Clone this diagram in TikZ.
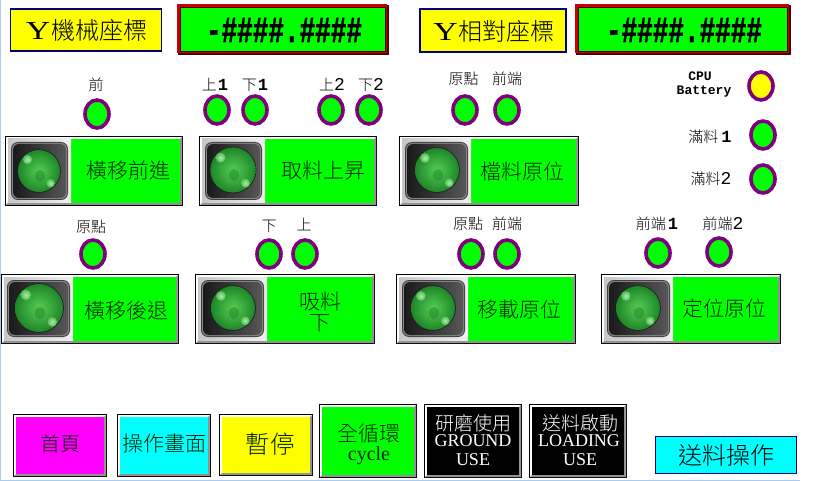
\documentclass[tikz,border=0pt]{standalone}
\usepackage{fontspec}
\setmainfont{Liberation Serif}
\newfontfamily\cjk{Noto Sans CJK TC Light}
\newfontfamily\monob{Liberation Mono}[BoldFont={Liberation Mono Bold}]
\newfontfamily\ledfont{Liberation Mono Bold}[FakeBold=1.5]
\usetikzlibrary{shapes.geometric}
\definecolor{navyb}{RGB}{0,0,128}
\definecolor{lampp}{RGB}{128,0,128}
\definecolor{pgreen}{RGB}{0,255,0}
\definecolor{pyellow}{RGB}{255,255,0}
\definecolor{pcyan}{RGB}{0,255,255}
\definecolor{pmag}{RGB}{255,0,255}
\definecolor{edgeb}{RGB}{168,204,240}
\definecolor{dred}{RGB}{200,0,0}
\definecolor{ballin}{RGB}{85,205,85}
\definecolor{ballout}{RGB}{30,135,40}
\definecolor{ballspot}{RGB}{215,250,215}
\tikzset{
  lampnode/.style={ellipse,draw=lampp,line width=3.6pt,minimum width=24pt,minimum height=28pt,inner sep=0pt},
  smalltxt/.style={font=\cjk\fontsize{15}{15}\selectfont,inner sep=0pt,text=black},
  btntxt/.style={font=\cjk\fontsize{21}{22}\selectfont,inner sep=0pt,text=black!85!green,align=center},
  titletxt/.style={font=\cjk\fontsize{24}{25}\selectfont,inner sep=0pt,text=black},
  ledtxt/.style={font=\ledfont\fontsize{26}{28}\selectfont,inner sep=0pt,text=black},
  cputxt/.style={font=\monob\bfseries\fontsize{13}{14}\selectfont,inner sep=0pt,text=black},
  blacktxt/.style={font=\cjk\fontsize{19}{20}\selectfont,inner sep=0pt,text=white},
  blacklat/.style={font=\fontsize{18}{20}\selectfont,inner sep=0pt,text=white},
}
\newcommand{\lampat}[4]{\node[lampnode,fill=#4] (#1) at (#2,#3) {};}
\newcommand{\ledbox}[5]{%
  \fill[black!70!red] (#2+1,#3+1) rectangle (#4,#5);
  \fill[dred] (#2,#3) rectangle (#4-2,#5-2);
  \node[rectangle,fill=pgreen,draw=black!70!red,line width=.6pt,minimum width=#4-#2-7pt,minimum height=#5-#3-7pt,inner sep=0pt] (#1) at ({(#2+#4)/2-.5},{(#3+#5)/2-.5}) {};}
\newcommand{\btnbox}[6]{%
  \fill[black] (#2,#3) rectangle (#4,#5);
  \fill[white] (#2+1,#3+1) rectangle (#4-1,#5-1);
  \fill[gray!85] (#4-1,#3+1) -- (#4-1,#5-1) -- (#2+1,#5-1) -- (#2+3,#5-3) -- (#4-3,#5-3) -- (#4-3,#3+3) -- cycle;
  \node[rectangle,fill=#6,minimum width=#4-#2-6pt,minimum height=#5-#3-6pt,inner sep=0pt] (#1) at ({(#2+#4)/2},{(#3+#5)/2}) {};}
% metal lamp picture: x0 y0 x1 y1 cx cy r
\newcommand{\lampimg}[7]{%
  \begin{scope}
  \clip (#1,#2) rectangle (#3,#4);
  \shade[shading angle=135,left color=black!22,middle color=black!72,right color=black!6] (#1,#2) rectangle (#3,#4);
  \fill[rounded corners=7pt,black!75] (#1+3,#2+3) rectangle (#3-3,#4-3);
  \fill[rounded corners=6pt,black!48] (#1+4,#2+4) rectangle (#3-4,#4-4);
  \shade[rounded corners=6pt,shading angle=135,left color=black!90,right color=black!66] (#1+5,#2+5) rectangle (#3-5,#4-5);
  \fill[black!88] (#5,#6) circle[radius=#7+.8];
  \shade[inner color=ballin,outer color=ballout] (#5,#6) circle[radius=#7];
  \fill[ballout,opacity=.5] (#5+1,#6+5) ellipse[x radius=5,y radius=6];
  \shade[inner color=ballspot,outer color=ballin,opacity=.8] (#5-#7*.55,#6-#7*.55) circle[radius=#7*.22];
  \shade[inner color=ballspot,outer color=ballin,opacity=.8] (#5+#7*.55,#6+#7*.58) circle[radius=#7*.2];
  \end{scope}}
\begin{document}
\begin{tikzpicture}[x=1pt,y=-1pt]
\useasboundingbox (0,0) rectangle (819,481);
\fill[white] (0,0) rectangle (819,481);
\fill[edgeb] (0,0) rectangle (1.2,481);
\fill[edgeb] (0,479.8) rectangle (800,481);
% headers
\node[rectangle,draw=navyb,fill=pyellow,line width=1.6pt,minimum width=151pt,minimum height=42pt,inner sep=0pt] (t1) at (86,30) {};
\node[titletxt] (t1txt) at (86.5,30) {\rmfamily\fontsize{26}{26}\selectfont\scalebox{1.3}[1]{Y}\hspace{1pt}\cjk\fontsize{24}{25}\selectfont 機械座標};
\ledbox{d1}{177}{4}{389}{55}
\node[ledtxt,yscale=1.4] (d1txt) at (284,30) {-\#\#\#\#.\#\#\#\#};
\node[rectangle,draw=navyb,fill=pyellow,line width=1.6pt,minimum width=146pt,minimum height=43pt,inner sep=0pt] (t2) at (493,30.5) {};
\node[titletxt] (t2txt) at (494,31) {\rmfamily\fontsize{26}{26}\selectfont\scalebox{1.3}[1]{Y}\hspace{1pt}\cjk\fontsize{24}{25}\selectfont 相對座標};
\ledbox{d2}{575}{4}{791}{55}
\node[ledtxt,yscale=1.4] (d2txt) at (684,30) {-\#\#\#\#.\#\#\#\#};
% lamps row 1
\lampat{l1}{97}{114}{pgreen}
\lampat{l2}{217}{110}{pgreen}
\lampat{l3}{255}{110}{pgreen}
\lampat{l4}{331}{110}{pgreen}
\lampat{l5}{369}{110}{pgreen}
\lampat{l6}{465}{110}{pgreen}
\lampat{l7}{507}{110}{pgreen}
\lampat{l8}{761}{86}{pyellow}
\lampat{l9}{763}{135}{pgreen}
\lampat{l10}{763}{179}{pgreen}
% lamps row 2
\lampat{m1}{93}{254}{pgreen}
\lampat{m2}{269}{254}{pgreen}
\lampat{m3}{305}{254}{pgreen}
\lampat{m4}{471}{254}{pgreen}
\lampat{m5}{507}{254}{pgreen}
\lampat{m6}{658}{253}{pgreen}
\lampat{m7}{719}{252}{pgreen}
% lamp labels
\node[smalltxt] (a1) at (96,85) {前};
\node[smalltxt] (a2) at (215,85) {上\hspace{1pt}\monob\bfseries\fontsize{17}{17}\selectfont 1};
\node[smalltxt] (a3) at (255,85) {下\hspace{1pt}\monob\bfseries\fontsize{17}{17}\selectfont 1};
\node[smalltxt] (a4) at (332,85) {上\monob\fontsize{18}{18}\selectfont 2};
\node[smalltxt] (a5) at (371,85) {下\monob\fontsize{18}{18}\selectfont 2};
\node[smalltxt] (a6) at (463.5,79) {原點};
\node[smalltxt] (a7) at (507,79) {前端};
\node[cputxt] (a8a) at (700,76) {CPU};
\node[cputxt] (a8b) at (704,92) {Battery};
\node[smalltxt] (a9) at (710,137) {滿料\hspace{3pt}\monob\bfseries\fontsize{17}{17}\selectfont 1};
\node[smalltxt] (a10) at (711,179) {滿料\monob\fontsize{18}{18}\selectfont 2};
\node[smalltxt] (b1) at (91,227) {原點};
\node[smalltxt] (b2) at (269,226) {下};
\node[smalltxt] (b3) at (304,225) {上};
\node[smalltxt] (b4) at (468,224) {原點};
\node[smalltxt] (b5) at (507,224) {前端};
\node[smalltxt] (b6) at (657,224) {前端\hspace{2pt}\monob\bfseries\fontsize{17}{17}\selectfont 1};
\node[smalltxt] (b7) at (723,224) {前端\monob\fontsize{18}{18}\selectfont 2};
% lamp buttons
\btnbox{p1}{5}{136}{183}{206}{pgreen}
\lampimg{8}{139}{71}{203}{39}{171}{21}
\node[btntxt] (p1txt) at (128,171) {橫移前進};
\btnbox{p2}{199}{136}{377}{206}{pgreen}
\lampimg{202}{139}{265}{203}{233}{170}{22.6}
\node[btntxt] (p2txt) at (323,171) {取料上昇};
\btnbox{p3}{399}{136}{579}{206}{pgreen}
\lampimg{402}{139}{471}{203}{437}{170}{22}
\node[btntxt] (p3txt) at (522,171) {檔料原位};
\btnbox{p4}{1}{274}{179}{344}{pgreen}
\lampimg{4}{277}{73}{340}{39}{308}{24}
\node[btntxt] (p4txt) at (126,311) {橫移後退};
\btnbox{p5}{195}{274}{375}{344}{pgreen}
\lampimg{198}{277}{267}{340}{233}{308}{22}
\node[btntxt,font=\cjk\fontsize{21}{21}\selectfont] (p5txt) at (320,312.5) {吸料\\下};
\btnbox{p6}{396}{274}{576}{344}{pgreen}
\lampimg{399}{277}{468}{340}{433}{308}{22}
\node[btntxt] (p6txt) at (519,309) {移載原位};
\btnbox{p7}{601}{274}{781}{344}{pgreen}
\lampimg{604}{277}{673}{340}{638}{308}{22}
\node[btntxt] (p7txt) at (724,309) {定位原位};
% bottom buttons
\btnbox{q1}{13}{414}{107}{477}{pmag}
\node[btntxt,font=\cjk\fontsize{20}{22}\selectfont] (q1txt) at (60,444) {首頁};
\btnbox{q2}{117}{414}{211}{477}{pcyan}
\node[btntxt] (q2txt) at (164,444) {操作畫面};
\btnbox{q3}{219}{414}{313}{476}{pyellow}
\node[btntxt,font=\cjk\fontsize{24.5}{26}\selectfont] (q3txt) at (270,444) {暫停};
\btnbox{q4}{319}{404}{417}{478}{pgreen}
\node[btntxt] (q4a) at (369,434) {全循環};
\node[btntxt,font=\fontsize{20}{20}\selectfont] (q4b) at (369,456) {cycle};
\btnbox{q5}{424}{404}{522}{478}{black}
\node[blacktxt] (q5a) at (473,423) {研磨使用};
\node[blacklat] (q5b) at (473,441) {GROUND};
\node[blacklat] (q5c) at (473,460) {USE};
\btnbox{q6}{529}{404}{627}{478}{black}
\node[blacktxt] (q6a) at (580,423) {送料啟動};
\node[blacklat] (q6b) at (579,441) {LOADING};
\node[blacklat] (q6c) at (580,460) {USE};
\node[rectangle,draw=navyb,fill=pcyan,line width=1pt,minimum width=141pt,minimum height=37pt,inner sep=0pt] (q7) at (726,455) {};
\node[titletxt] (q7txt) at (726,455) {送料操作};
\end{tikzpicture}
\end{document}
